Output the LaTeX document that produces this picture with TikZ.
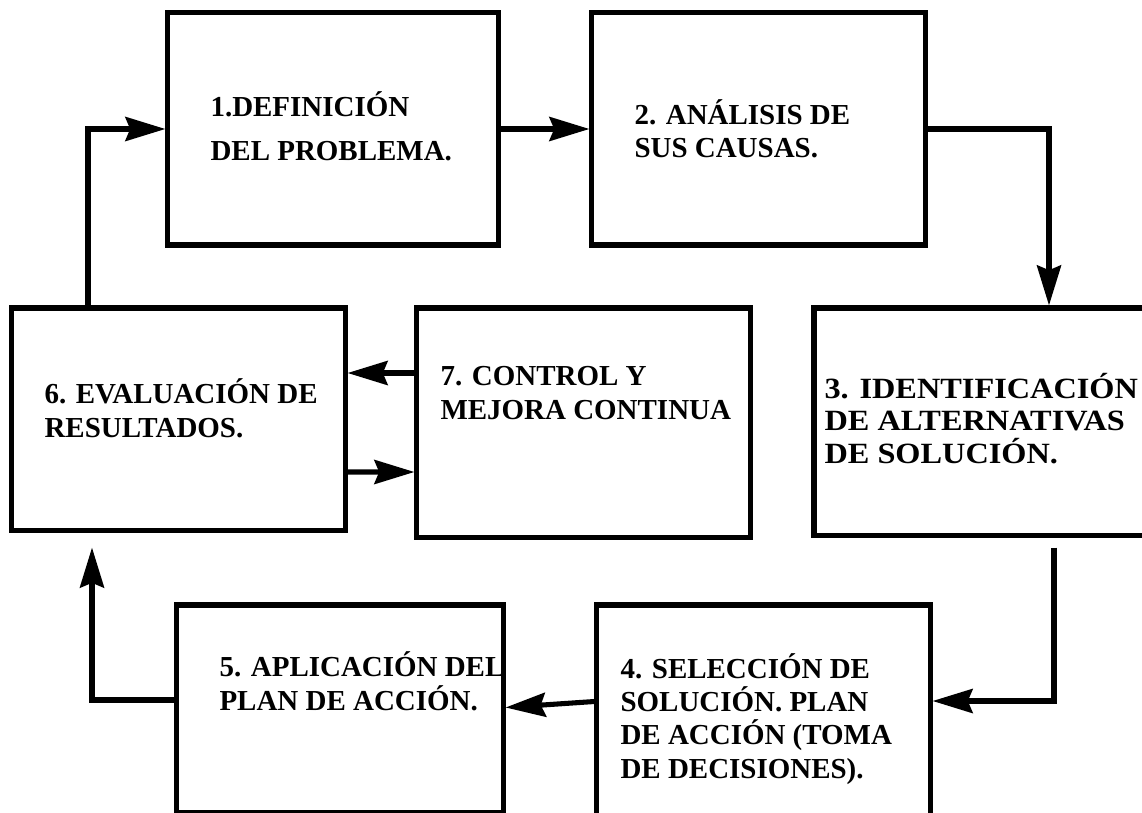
\documentclass[tikz,border=0pt]{standalone}
\usepackage{fontspec}
\setmainfont{Liberation Serif}
\newfontfamily\widefont{Liberation Serif}[FakeStretch=1.1]
\usetikzlibrary{arrows.meta,calc}

\begin{document}
\begin{tikzpicture}[ x=0.025cm, y=-0.025cm,
										line width = 3.6pt,
										stage/.style={draw, rectangle, inner sep=0pt, line width=3.6pt},
										stagetext/.style={anchor=base west, align=left, inner sep=0pt, font=\bfseries\fontsize{20.6}{23.5}\selectfont},
										link/.style={-{Stealth[length=1cm, width=0.6cm, inset=0.12cm]}, line width=3.6pt}]

		\useasboundingbox [fill=white] (0,0) rectangle (1142,813);

		% boxes
		\node [stage, minimum width=8.25cm, minimum height=5.8cm] (b1) at (333,129) {};
		\node [stage, minimum width=8.325cm, minimum height=5.8cm] (b2) at (758.5,129) {};
		\node [stage, minimum width=8.4cm, minimum height=5.675cm] (b3) at (982,421.5) {};
		\node [stage, minimum width=8.325cm, minimum height=5.375cm] (b4) at (763.5,712.5) {};
		\node [stage, minimum width=8.15cm, minimum height=5.175cm] (b5) at (340,708.5) {};
		\node [stage, minimum width=8.325cm, minimum height=5.55cm] (b6) at (178.5,419) {};
		\node [stage, minimum width=8.325cm, minimum height=5.725cm] (b7) at (583.5,422.5) {};

		% texts (anchored at the baseline of the last line)
		\node [stagetext, font=\bfseries\fontsize{20.6}{32}\selectfont] (t1) at (208,161) {1.DEFINICIÓN\\DEL PROBLEMA.};
		\node [stagetext] (t2) at (632,158) {2. ANÁLISIS DE\\SUS CAUSAS.};
		\node [stagetext, font=\widefont\bfseries\fontsize{20.9}{23}\selectfont] (t3) at (822,463) {3. IDENTIFICACIÓN\\DE ALTERNATIVAS\\DE SOLUCIÓN.};
		\node [stagetext] (t4) at (618,778) {4. SELECCIÓN DE\\SOLUCIÓN. PLAN\\DE ACCIÓN (TOMA\\DE DECISIONES).};
		\node [stagetext] (t5) at (217,710) {5. APLICACIÓN DEL\\PLAN DE ACCIÓN.};
		\node [stagetext] (t6) at (42,437) {6. EVALUACIÓN DE\\RESULTADOS.};
		\node [stagetext] (t7) at (438,419) {7. CONTROL Y\\MEJORA CONTINUA};

		% arrows
		\draw [link] (b1) -- (b2);
		\draw [link] (b2.east) -| ($(b3.north)+(67,0)$);
		\draw [link, shorten <=0.25cm] ($(b3.south)+(72,0)$) |- ($(b4.east)+(0,-11.5)$);
		\draw [link] ($(b4.west)+(0,-11)$) -- ($(b5.east)+(0,-1)$);
		\draw [link, shorten >=0.375cm] ($(b5.west)+(0,-8.5)$) -| ($(b6.south)+(-86.5,0)$);
		\draw [link] ($(b6.north)+(-90.5,0)$) |- (b1.west);
		\draw [link] ($(b7.west)+(0,-49.5)$) -- ($(b6.east)+(0,-46)$);
		\draw [link] ($(b6.east)+(0,53)$) -- ($(b7.west)+(0,49.5)$);

\end{tikzpicture}
\end{document}
